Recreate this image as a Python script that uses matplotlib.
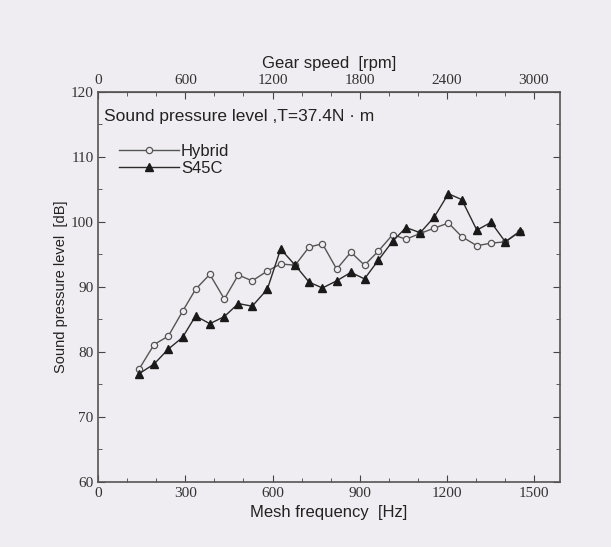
import matplotlib.pyplot as plt
from matplotlib.ticker import MultipleLocator, FixedLocator

# mesh frequency [Hz]
freq = [140, 192, 241, 290, 335, 384, 434, 482, 530, 582, 628, 678, 726, 772,
        821, 870, 917, 965, 1014, 1060, 1109, 1157, 1206, 1252, 1304, 1353, 1402, 1451]

hybrid = [77.3, 81.1, 82.4, 86.2, 89.6, 91.9, 88.1, 91.8, 90.9, 92.4, 93.5, 93.3, 96.1, 96.6,
          92.7, 95.3, 93.3, 95.5, 98.0, 97.3, 98.2, 99.0, 99.8, 97.7, 96.3, 96.7, 96.9, 98.4]
s45c = [76.6, 78.1, 80.4, 82.2, 85.5, 84.3, 85.4, 87.4, 87.0, 89.6, 95.8, 93.3, 90.7, 89.8,
        90.9, 92.2, 91.2, 94.1, 97.0, 99.1, 98.3, 100.7, 104.3, 103.4, 98.7, 99.9, 96.9, 98.5]

rpm_ticks = [0, 600, 1200, 1800, 2400, 3000]

bg = "#efedf1"
sans = "Liberation Sans"
serif = "Liberation Serif"

fig = plt.figure(figsize=(6.11, 5.47), dpi=100, facecolor=bg)
ax = fig.add_axes([0.161, 0.1194, 0.7553, 0.713], facecolor=bg)

ax.plot(freq, hybrid, color="#555555", lw=1.0, marker="o", ms=4.5,
        mfc=bg, mec="#555555", mew=0.9, label="Hybrid")
ax.plot(freq, s45c, color="#2a2a2a", lw=1.0, marker="^", ms=5.5,
        mfc="#1a1a1a", mec="#1a1a1a", label="S45C")

ax.set_xlim(0, 1590)
ax.set_ylim(60, 120)
ax.xaxis.set_major_locator(MultipleLocator(300))
ax.xaxis.set_minor_locator(MultipleLocator(100))
ax.yaxis.set_major_locator(MultipleLocator(10))
ax.yaxis.set_minor_locator(MultipleLocator(5))
ax.tick_params(which="both", direction="in", right=True, colors="#444444", labelcolor="#333333")
ax.tick_params(which="major", length=5, labelsize=11)
ax.tick_params(which="minor", length=3)
for lab in ax.get_xticklabels() + ax.get_yticklabels():
    lab.set_family(serif)
for s in ax.spines.values():
    s.set_color("#555555")
    s.set_linewidth(1.2)

ax.set_xlabel("Mesh frequency  [Hz]", family=sans, fontsize=12, color="#222222", labelpad=4)
ax.set_ylabel("Sound pressure level  [dB]", family=sans, fontsize=10.5, color="#222222", labelpad=2)

top = ax.secondary_xaxis("top", functions=(lambda x: x * 2, lambda x: x / 2))
top.xaxis.set_major_locator(FixedLocator(rpm_ticks))
top.xaxis.set_minor_locator(FixedLocator(list(range(0, 3200, 200))))
top.tick_params(which="both", direction="in", colors="#444444", labelcolor="#333333")
top.tick_params(which="major", length=5, labelsize=11)
top.tick_params(which="minor", length=3)
for lab in top.get_xticklabels():
    lab.set_family(serif)
top.spines["top"].set_color("#555555")
top.set_xlabel("Gear speed  [rpm]", family=sans, fontsize=12, color="#222222", labelpad=4)

ax.text(0.012, 0.955, "Sound pressure level ,T=37.4N · m", transform=ax.transAxes,
        family=sans, fontsize=12.5, color="#222222", va="top")

leg = ax.legend(loc="upper left", bbox_to_anchor=(0.02, 0.895), frameon=False,
                prop={"family": sans, "size": 12}, handlelength=3.6, handletextpad=0.1,
                labelspacing=0.1, borderaxespad=0.3)
for t in leg.get_texts():
    t.set_color("#222222")

fig.savefig("out.png", dpi=100, facecolor=bg)
